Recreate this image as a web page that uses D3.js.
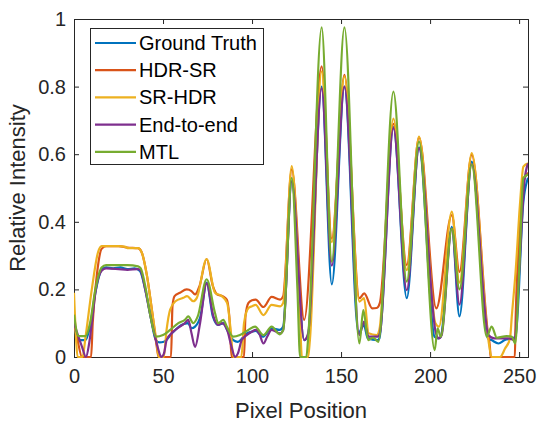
<!DOCTYPE html>
<html>
<head>
<meta charset="utf-8">
<script src="https://cdn.jsdelivr.net/npm/d3@7"></script>
<style>
  body { margin: 0; background: #fff; }
  svg { display: block; font-family: "Liberation Sans", Arial, sans-serif; }
  .axis path, .axis line { stroke: #262626; }
  .axis text { fill: #262626; font-size: 20px; }
</style>
</head>
<body>
<div id="chart"></div>
<script>
// line profiles, [pixel position, relative intensity]
var groundTruth = [[0,0.10],[2.5,0.05],[6.5,0.05],[9,0.09],[12,0.19],[15.5,0.258],[18,0.265],[22,0.262],[26,0.265],[30,0.26],[34,0.262],[37,0.255],[40,0.2],[43,0.12],[46,0.05],[48,0.043],[50.5,0.045],[55,0.07],[59,0.09],[64,0.1],[66,0.085],[68,0.09],[71,0.12],[74.5,0.22],[78,0.12],[81,0.095],[84,0.1],[86,0.08],[89.5,0.05],[92,0.045],[97,0.07],[100,0.075],[102,0.077],[106,0.06],[111,0.085],[115.5,0.08],[117.5,0.09],[122.3,0.52],[129.3,0.05],[131.5,0.065],[139.1,0.80],[144.8,0.215],[151.9,0.80],[159.8,0.07],[161.5,0.085],[162.8,0.095],[165,0.055],[170.5,0.05],[171.5,0.055],[179.4,0.68],[186.9,0.174],[193.8,0.62],[202.5,0.06],[204.5,0.055],[206,0.06],[212.2,0.385],[216.5,0.12],[223.4,0.578],[232.5,0.055],[234.5,0.05],[238.4,0.04],[242,0.05],[246,0.055],[248,0.06],[252.4,0.46],[255,0.53]];

var hdrSr = [[0,0.1],[2,0.05],[4.5,0],[9.6,0],[10.5,0.1],[13,0.25],[15.5,0.32],[18,0.328],[25,0.328],[30,0.324],[36,0.322],[38,0.31],[41,0.24],[44,0.13],[46.5,0.03],[47.5,0],[54.5,0],[55.3,0.15],[56.5,0.18],[59.5,0.19],[63.3,0.2],[66,0.195],[68,0.185],[70.5,0.21],[74.5,0.29],[78,0.21],[80.5,0.185],[83.5,0.18],[85.8,0.17],[87.5,0.1],[88.5,0],[95.5,0],[96.3,0.12],[98,0.16],[100,0.168],[102,0.17],[106.4,0.148],[111,0.178],[115.8,0.17],[117.5,0.18],[122.3,0.555],[129.3,0.11],[139.1,0.86],[144.8,0.35],[151.9,0.835],[160.3,0.174],[163,0.188],[167.5,0.144],[170,0.145],[171.8,0.16],[179.4,0.69],[186.9,0.272],[193.8,0.65],[203.5,0.144],[212.2,0.42],[216.5,0.252],[223.4,0.598],[232.5,0.07],[233.6,0.03],[234,0],[247.6,0],[248,0.1],[250,0.35],[252.4,0.52],[255,0.545]];

var srHdr = [[0,0.19],[1.2,0.05],[2,0],[4.8,0],[6.5,0.06],[10,0.2],[13.5,0.31],[15.5,0.328],[25,0.328],[29,0.326],[30,0.322],[36,0.322],[38,0.31],[41,0.24],[44,0.13],[46.5,0.04],[47.6,0],[50.4,0],[52,0.08],[54,0.14],[57,0.165],[61.4,0.175],[63.5,0.18],[67,0.165],[69,0.175],[74.5,0.29],[79.2,0.19],[83,0.18],[86,0.16],[88,0.08],[89.5,0],[94,0],[95.5,0.1],[98,0.145],[100,0.15],[102,0.154],[106.4,0.124],[111,0.154],[115.8,0.15],[117.5,0.16],[122.3,0.565],[126.5,0.2],[128,0],[131.5,0],[132.5,0.05],[139.1,0.845],[144.8,0.34],[151.9,0.83],[160.3,0.164],[162.9,0.174],[165.5,0.07],[170,0.065],[171.5,0.08],[179.4,0.705],[186.9,0.257],[193.8,0.652],[203,0.1],[205,0.09],[212.2,0.43],[216.5,0.22],[223.4,0.603],[232.5,0.06],[234.6,0],[239.3,0],[242.1,0.025],[244.9,0.055],[245.9,0.12],[248,0.25],[250.6,0.46],[252.4,0.563],[255,0.573]];

var endToEnd = [[0,0.1],[2.5,0.06],[4.5,0.03],[6.7,0],[8.5,0.04],[10,0.1],[12,0.19],[15.5,0.255],[18,0.262],[25,0.26],[30,0.258],[36,0.26],[37.5,0.255],[40,0.2],[43,0.12],[46,0.05],[47.5,0.02],[49,0],[50.5,0.01],[52,0.05],[54.8,0.07],[59.5,0.09],[62.3,0.1],[64.2,0.11],[66,0.07],[68,0.03],[70.8,0.1],[74.5,0.218],[78.3,0.12],[81,0.095],[83,0.1],[86,0.08],[88.5,0.03],[90.4,0],[92,0.01],[94.2,0.05],[97,0.065],[100,0.075],[102,0.08],[104,0.07],[106.4,0.04],[108.5,0.06],[111,0.08],[115.8,0.07],[117.5,0.08],[122.3,0.52],[129.3,0.05],[131.5,0.07],[139.1,0.795],[144.8,0.27],[151.9,0.80],[160.3,0.065],[162.9,0.105],[165.5,0.06],[170.5,0.06],[171.8,0.07],[179.4,0.677],[186.9,0.198],[193.8,0.617],[203.3,0.07],[205,0.055],[206.5,0.065],[212.2,0.38],[216.5,0.155],[223.4,0.57],[232.8,0.065],[236,0.055],[244,0.055],[247.5,0.05],[250,0.25],[253,0.52],[255,0.573]];

var mtl = [[0,0.125],[2.5,0.062],[6.5,0.062],[9,0.1],[12,0.2],[15.5,0.265],[18,0.272],[30,0.272],[36,0.268],[37.5,0.262],[40,0.21],[43,0.12],[46,0.06],[50,0.065],[54,0.08],[58.6,0.1],[62.3,0.11],[64.2,0.12],[67,0.1],[69.5,0.12],[74.5,0.23],[79.2,0.13],[81,0.1],[83.9,0.11],[85.8,0.09],[89.5,0.06],[93.2,0.065],[97.9,0.08],[101.7,0.09],[106.4,0.065],[111,0.09],[115.5,0.067],[117.5,0.08],[122.3,0.53],[125.5,0.2],[127,0],[130.5,0],[131.7,0.07],[139.1,0.975],[144.8,0.282],[151.9,0.975],[160.3,0.04],[162.5,0.139],[165.3,0.05],[168,0.057],[171,0.045],[179.4,0.785],[186.9,0.223],[193.8,0.637],[202.6,0.02],[204.2,0.085],[206,0.06],[212.2,0.38],[216.5,0.2],[223.4,0.57],[231.8,0.06],[234.6,0.09],[237.5,0.057],[243,0.062],[246,0.06],[247.8,0.04],[250,0.25],[252.4,0.53],[255,0.54]];

var seriesNames = ["Ground Truth", "HDR-SR", "SR-HDR", "End-to-end", "MTL"];
var seriesColors = ["#0072BD", "#D95319", "#EDB120", "#7E2F8E", "#77AC30"];
var xTicks = [0, 50, 100, 150, 200, 250];
var yTicks = [0, 0.2, 0.4, 0.6, 0.8, 1];

var width = 540, height = 426;
var margin = {left: 74, right: 12, top: 19, bottom: 69};

var svg = d3.select("#chart").append("svg")
    .attr("width", width)
    .attr("height", height);

var x = d3.scaleLinear().domain([0, 255]).range([margin.left, width - margin.right]);
var y = d3.scaleLinear().domain([0, 1]).range([height - margin.bottom, margin.top]);

var fmt = function(d) { return d3.format("")(d); };

// axes, matlab style: ticks inside, box all round
svg.append("g").attr("class", "axis")
    .attr("transform", "translate(0," + y(0) + ")")
    .call(d3.axisBottom(x).tickValues(xTicks).tickSize(-5).tickPadding(12).tickFormat(fmt));
svg.append("g").attr("class", "axis")
    .attr("transform", "translate(0," + y(1) + ")")
    .call(d3.axisTop(x).tickValues(xTicks).tickSize(-5).tickFormat(""));
svg.append("g").attr("class", "axis")
    .attr("transform", "translate(" + x(0) + ",0)")
    .call(d3.axisLeft(y).tickValues(yTicks).tickSize(-5).tickPadding(8).tickFormat(fmt));
svg.append("g").attr("class", "axis")
    .attr("transform", "translate(" + x(255) + ",0)")
    .call(d3.axisRight(y).tickValues(yTicks).tickSize(-5).tickFormat(""));
svg.selectAll(".axis .domain").attr("stroke-width", 1);

svg.append("clipPath").attr("id", "plotclip")
    .append("rect")
    .attr("x", x(0)).attr("y", y(1) - 2)
    .attr("width", x(255) - x(0)).attr("height", y(0) - y(1) + 4);

var line = d3.line()
    .x(function(d) { return x(d[0]); })
    .y(function(d) { return y(d[1]); })
    .curve(d3.curveMonotoneX);

var allSeries = [groundTruth, hdrSr, srHdr, endToEnd, mtl];
svg.append("g").attr("clip-path", "url(#plotclip)")
    .selectAll("path")
    .data(allSeries)
    .enter().append("path")
    .attr("d", line)
    .attr("fill", "none")
    .attr("stroke", function(d, i) { return seriesColors[i]; })
    .attr("stroke-width", 2.2)
    .attr("stroke-linejoin", "round");

// axis labels
svg.append("text")
    .attr("x", (x(0) + x(255)) / 2)
    .attr("y", 418)
    .attr("text-anchor", "middle")
    .attr("fill", "#262626")
    .style("font-size", "22px")
    .text("Pixel Position");
svg.append("text")
    .attr("transform", "translate(25," + (y(0.5)) + ") rotate(-90)")
    .attr("text-anchor", "middle")
    .attr("fill", "#262626")
    .style("font-size", "22px")
    .text("Relative Intensity");

// legend
var legend = svg.append("g");
legend.append("rect")
    .attr("x", 90.5).attr("y", 28.5)
    .attr("width", 173).attr("height", 136)
    .attr("fill", "#fff")
    .attr("stroke", "#262626")
    .attr("stroke-width", 1);
var item = legend.selectAll("g.item")
    .data(seriesNames)
    .enter().append("g")
    .attr("class", "item")
    .attr("transform", function(d, i) { return "translate(0," + (43 + i * 27.2) + ")"; });
item.append("line")
    .attr("x1", 95).attr("x2", 136)
    .attr("stroke", function(d, i) { return seriesColors[i]; })
    .attr("stroke-width", 2.2);
item.append("text")
    .attr("x", 139)
    .attr("dy", "0.35em")
    .attr("fill", "#000")
    .style("font-size", "20px")
    .text(function(d) { return d; });
</script>
</body>
</html>
